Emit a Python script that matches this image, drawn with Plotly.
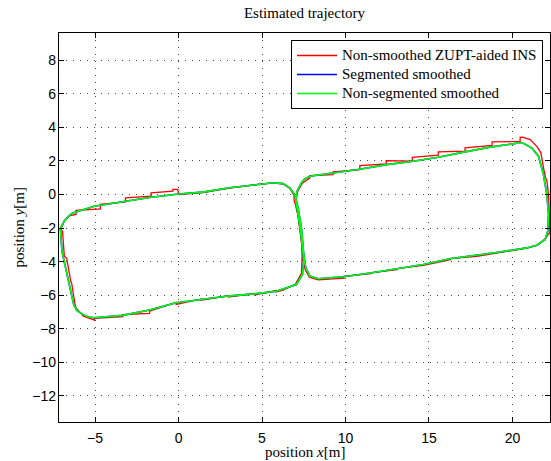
import plotly.graph_objects as go

# Smoothed trajectory (non-segmented), traversal order
green_x = [0.0, 1.46, 3.06, 4.86, 5.66, 6.26, 6.66, 6.96, 7.16, 7.36, 7.5, 7.62, 7.86, 8.36, 9.86,
           11.5, 13.06, 14.66, 16.26, 17.86, 19.26, 20.86, 21.46, 21.96, 22.12, 22.16, 22.06, 21.86,
           21.56, 21.16, 20.66, 20.26, 18.66, 17.16, 15.56, 14.06, 12.46, 10.86, 10.06, 9.26, 8.4,
           7.86, 7.55, 7.36, 7.1, 7.02, 7.16, 7.36, 7.5, 7.42, 7.06, 6.26, 5.86, 4.56, 2.96, 1.36,
           -0.14, -1.74, -3.34, -5.04, -5.4, -5.74, -6.1, -6.28, -6.54, -6.74, -6.98, -7.08, -6.95,
           -6.84, -6.6, -6.34, -5.04, -3.4, -1.74, 0.0]
green_y = [0.03, 0.14, 0.4, 0.63, 0.7, 0.65, 0.4, 0.0, -0.8, -1.99, -3.57, -4.37, -4.86, -5.02, -4.9,
           -4.68, -4.43, -4.17, -3.83, -3.63, -3.42, -3.18, -3.02, -2.68, -2.18, -1.19, 0.0, 1.19,
           2.28, 2.77, 3.05, 3.05, 2.82, 2.54, 2.22, 1.98, 1.78, 1.5, 1.39, 1.25, 1.15,
           1.09, 0.92, 0.69, 0.2, -0.4, -1.19, -2.58, -3.97, -4.76, -5.36, -5.65, -5.76, -5.92, -6.05, -6.25,
           -6.45, -6.88, -7.2, -7.34, -7.3, -7.14, -6.9, -6.55, -5.36, -4.37, -3.4, -2.02, -1.75,
           -1.59, -1.3, -1.1, -0.7, -0.45, -0.18, 0.03]

# Segmented smoothed trajectory (visually identical to the non-segmented one)
blue_x = list(green_x)
blue_y = list(green_y)

# Non-smoothed ZUPT-aided INS trajectory
red_x = [0.0, 1.46, 3.06, 4.86, 5.66, 6.26, 6.66, 6.92, 6.92, 7.1, 7.26, 7.3, 7.42, 7.42, 7.58, 7.84,
         8.36, 9.9, 9.9, 11.5, 11.5, 13.06, 13.06, 14.66, 16.26, 16.26, 17.86, 19.26, 20.86, 21.5,
         21.98, 22.2, 22.24, 22.24, 22.22, 22.16, 22.06, 21.98, 21.86, 21.76, 21.7, 21.46, 21.06,
         20.6, 20.46, 20.46, 18.78, 18.78, 17.16, 17.16, 15.56, 15.56, 14.0, 14.0, 12.44, 12.44,
         10.86, 10.86, 9.26, 9.26, 7.86, 7.86, 7.4, 7.12, 6.98, 6.98, 7.14, 7.26, 7.26, 7.38, 7.42,
         7.4, 7.36, 7.0, 6.26, 5.86, 5.86, 4.56, 4.56, 2.96, 2.96, 1.36, 1.36, -0.14, -0.14,
         -1.74, -1.74, -3.34, -3.34, -5.04, -5.04, -5.7, -6.14, -6.2, -6.4, -6.45, -6.7, -6.84,
         -6.95, -7.04, -6.84, -6.5, -6.14, -6.14, -4.68, -4.68, -3.18, -3.18, -1.64, -1.64, -0.34,
         -0.34, -0.04, 0.0]
red_y = [0.0, 0.12, 0.38, 0.62, 0.68, 0.63, 0.38, -0.05, -0.35, -0.9, -1.95, -2.15, -3.5, -3.7, -4.45, -4.92,
         -5.08, -4.98, -4.88, -4.72, -4.66, -4.48, -4.42, -4.22, -3.88, -3.82, -3.68, -3.46, -3.2, -3.02,
         -2.62, -2.3, -2.3, -2.1, -1.2, 0.0, 0.85, 1.0, 1.6, 2.35, 2.5, 2.87, 3.27,
         3.42, 3.41, 3.17, 3.13, 2.93, 2.78, 2.58, 2.54, 2.34, 2.22, 1.98, 2.02, 1.82,
         1.72, 1.48, 1.35, 1.19, 1.13, 0.99, 0.65, 0.15, -0.35, -0.5, -1.2, -1.9, -2.05, -3.0, -3.57,
         -3.75, -4.7, -5.35, -5.7, -5.8, -5.72, -5.98, -5.9, -6.1, -6.03, -6.3, -6.22, -6.55, -6.42,
         -6.95, -7.08, -7.16, -7.28, -7.38, -7.48, -7.25, -6.75, -6.55, -5.3, -5.2, -3.8, -3.67,
         -2.2, -2.05, -1.55, -1.25, -1.19, -0.95, -0.85, -0.58, -0.44, -0.2, -0.1, 0.1, 0.2,
         0.3, 0.3, 0.03]

x_ticks = [-5, 0, 5, 10, 15, 20]
y_ticks = [8, 6, 4, 2, 0, -2, -4, -6, -8, -10, -12]
x_range = [-7.16, 22.25]
y_range = [-13.55, 9.62]

SERIF = "Liberation Serif, Times New Roman, serif"
SANS = "Liberation Sans, Arial, Helvetica, sans-serif"

W, H = 551, 461
ML, MR, MT, MB = 59, 1, 33, 39

fig = go.Figure()
fig.add_trace(go.Scatter(x=red_x, y=red_y, mode="lines",
                         name='<span style="font-size:15px">Non-smoothed ZUPT-aided INS</span>',
                         line=dict(color="#ff0000", width=1.3)))
fig.add_trace(go.Scatter(x=blue_x, y=blue_y, mode="lines",
                         name='<span style="font-size:15px">Segmented smoothed</span>',
                         line=dict(color="#0000ff", width=1.6)))
fig.add_trace(go.Scatter(x=green_x, y=green_y, mode="lines",
                         name='<span style="font-size:15px">Non-segmented smoothed</span>',
                         line=dict(color="#00ff00", width=1.6)))

axis_common = dict(showgrid=True, gridcolor="#444", griddash="1px,6px", gridwidth=1,
                   zeroline=False, showline=True, linecolor="black", linewidth=1.2,
                   mirror="ticks", ticks="inside", ticklen=5, tickcolor="black",
                   automargin=False,
                   tickfont=dict(family=SANS, size=14, color="black"))

fig.update_xaxes(range=x_range, tickvals=x_ticks, ticklabelstandoff=3, **axis_common)
fig.update_yaxes(range=y_range, tickvals=y_ticks, ticklabelstandoff=-1, **axis_common)

plot_w = W - ML - MR
plot_h = H - MT - MB
fig.add_annotation(text="position <i>x</i>[m]", xref="paper", yref="paper",
                   x=0.5, y=-(452 - (H - MB)) / plot_h, xanchor="center", yanchor="middle",
                   showarrow=False, font=dict(family=SERIF, size=15, color="black"))
fig.add_annotation(text="position <i>y</i>[m]", xref="paper", yref="paper",
                   x=-(ML - 18) / plot_w, y=0.5, xanchor="center", yanchor="middle", textangle=-90,
                   showarrow=False, font=dict(family=SERIF, size=15, color="black"))

fig.update_layout(
    width=W, height=H,
    margin=dict(l=ML, r=MR, t=MT, b=MB, autoexpand=False),
    plot_bgcolor="white", paper_bgcolor="white",
    title=dict(text="Estimated trajectory", font=dict(family=SERIF, size=15, color="black"),
               x=0.5, xref="paper", xanchor="center", y=1 - 13 / H, yref="container",
               yanchor="middle", automargin=False),
    legend=dict(x=(543 - ML) / plot_w, y=1 - (40 - MT) / plot_h, xanchor="right", yanchor="top",
                bgcolor="white", bordercolor="black", borderwidth=1,
                font=dict(family=SERIF, size=12, color="black"),
                tracegroupgap=0, itemwidth=40),
    showlegend=True,
)

fig.write_html("out.html", config={"displayModeBar": False},
               post_script="document.body.style.margin='0px';document.body.style.padding='0px';")
